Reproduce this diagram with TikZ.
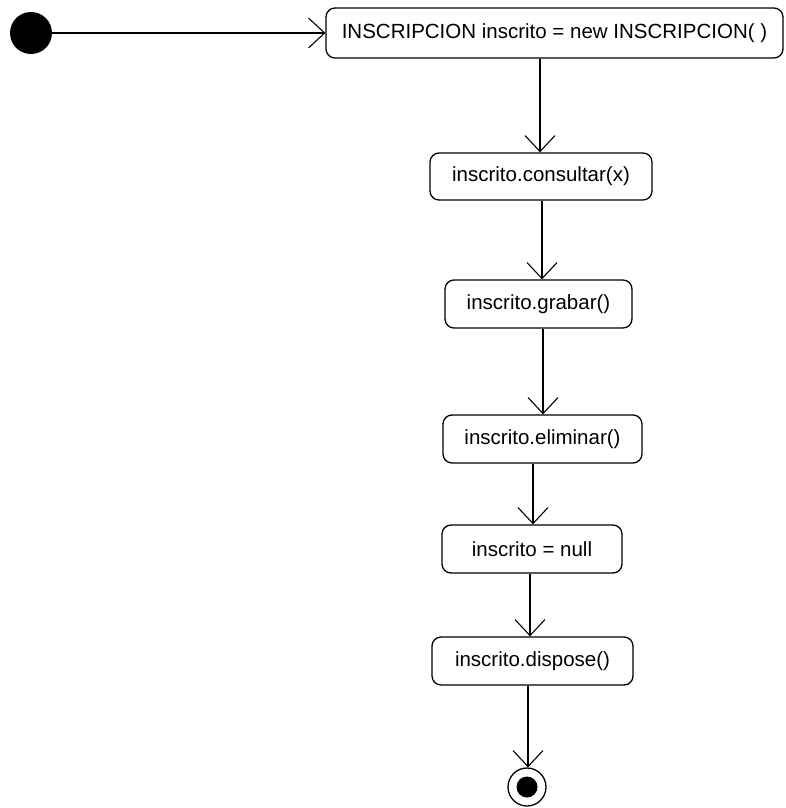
\documentclass[tikz,border=0pt]{standalone}
\usepackage{fontspec}
\setmainfont{Liberation Sans}
\usetikzlibrary{arrows.meta}
\tikzset{
  act/.style={draw=black, line width=1.3pt, rounded corners=9pt, inner sep=0pt,
    minimum height=48pt, font=\fontsize{20.5}{24}\selectfont},
  conn/.style={draw=black, line width=1.3pt, -{Straight Barb[length=16pt,width=30pt,line width=1.1pt]}},
}
\begin{document}
\begin{tikzpicture}[x=1pt,y=-1pt]
\useasboundingbox (0,0) rectangle (785,808);
\coordinate (xa) at (540,0);
\coordinate (xb) at (542,0);
\coordinate (xc) at (543,0);
\coordinate (xd) at (533,0);
\coordinate (xe) at (530,0);
\coordinate (xf) at (528,0);
\node[circle, fill=black, minimum size=42pt, inner sep=0pt] (init) at (31,33) {};
\node[act, minimum width=457pt, minimum height=50pt] (b1) at (554.5,33) {INSCRIPCION inscrito = new INSCRIPCION( )};
\node[act, minimum width=222pt, minimum height=47pt] (b2) at (541,176.5) {inscrito.consultar(x)};
\node[act, minimum width=187pt] (b3) at (538.5,304) {inscrito.grabar()};
\node[act, minimum width=199pt] (b4) at (542.5,439) {inscrito.eliminar()};
\node[act, minimum width=180pt] (b5) at (532,549) {inscrito = null};
\node[act, minimum width=201pt] (b6) at (532.5,661) {inscrito.dispose()};
\node[circle, draw=black, line width=1.3pt, minimum size=38pt, inner sep=0pt] (fin) at (527,787) {};
\node[circle, fill=black, minimum size=21pt, inner sep=0pt] (findot) at (fin) {};
\draw[conn] (init) -- (init -| b1.west);
\draw[conn] (b1.south -| xa) -- (b2.north -| xa);
\draw[conn] (b2.south -| xb) -- (b3.north -| xb);
\draw[conn] (b3.south -| xc) -- (b4.north -| xc);
\draw[conn] (b4.south -| xd) -- (b5.north -| xd);
\draw[conn] (b5.south -| xe) -- (b6.north -| xe);
\draw[conn] (b6.south -| xf) -- (fin.north -| xf);
\end{tikzpicture}
\end{document}
